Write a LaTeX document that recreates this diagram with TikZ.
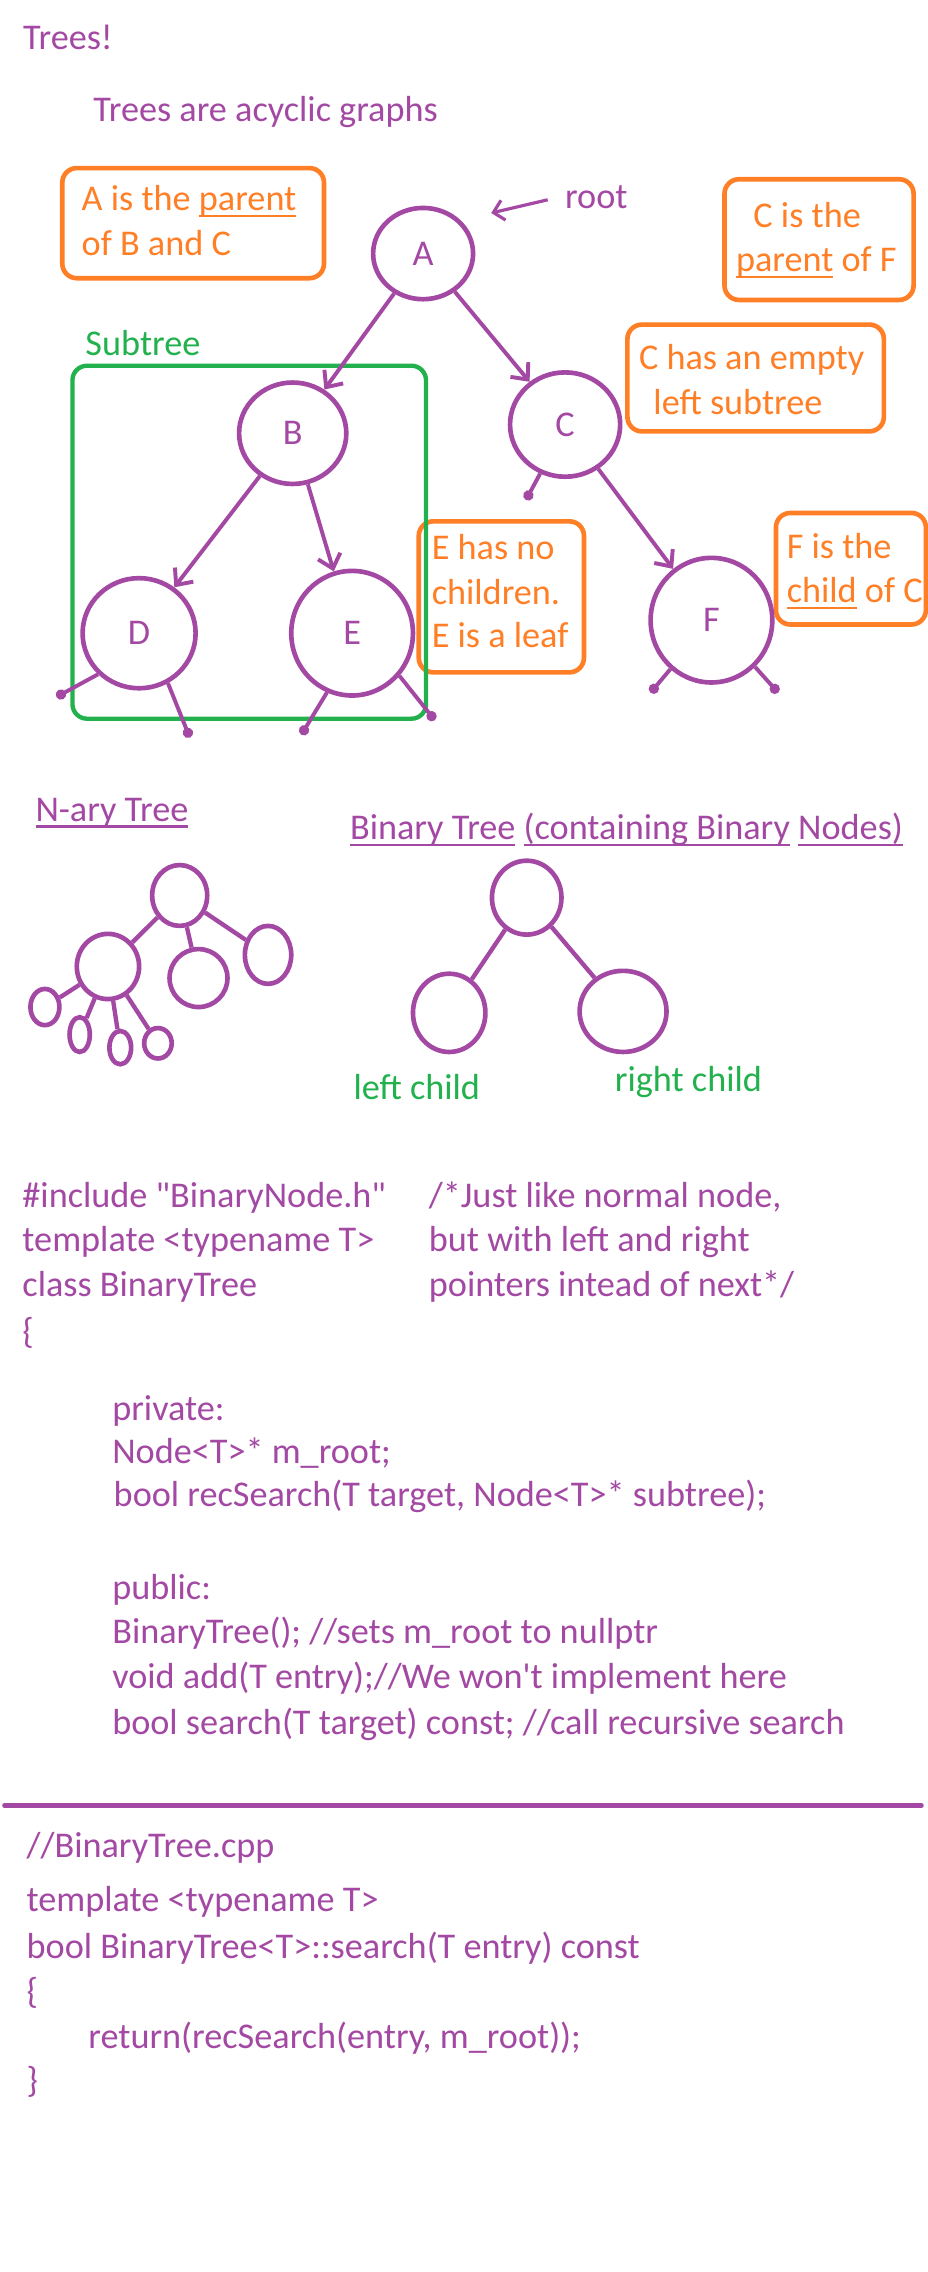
\documentclass[tikz,border=0pt]{standalone}
\usepackage{fontspec}
\setmainfont{Carlito}
\usetikzlibrary{arrows.meta,shapes.geometric}
\definecolor{pur}{HTML}{A349A4}
\definecolor{org}{HTML}{FF7F27}
\definecolor{grn}{HTML}{22B14C}
\newcommand\myul[1]{\setbox0\hbox{#1}\rlap{\rule[-4.5pt]{\wd0}{1.6pt}}\box0\relax}
\tikzset{
  txt/.style={anchor=base west, inner sep=0pt, outer sep=0pt, font=\fontsize{25}{31}\selectfont},
  ptxt/.style={txt, text=pur},
  otxt/.style={txt, text=org},
  gtxt/.style={txt, text=grn},
  obox/.style={draw=org, line width=3.2pt, rounded corners=10pt, inner sep=0pt},
  gbox/.style={draw=grn, line width=3pt, rounded corners=10pt, inner sep=0pt},
  tnode/.style={ellipse, draw=pur, line width=3.2pt, inner sep=0pt, text=pur, font=\fontsize{25}{31}\selectfont},
  snode/.style={ellipse, draw=pur, line width=3.2pt, inner sep=0pt},
  arr/.style={draw=pur, line width=2.7pt, -{Straight Barb[length=9pt,width=16pt]}},
  nul/.style={draw=pur, line width=2.7pt, -{Circle[length=7pt]}},
  tedge/.style={draw=pur, line width=3pt},
}
\begin{document}
\begin{tikzpicture}[x=1pt,y=-1pt]
\useasboundingbox (0,0) rectangle (640,1568);
\fill[white] (0,0) rectangle (640,1568);

% titles
\node[ptxt] (t1) at (16,34.5) {Trees!};
\node[ptxt] (t2) at (64.5,84) {Trees are acyclic graphs};

% boxes
\node[obox, minimum width=180.6pt, minimum height=76pt] (b1) at (133.3,154) {};
\node[otxt] (b1a) at (56.4,145.3) {A is the \myul{parent}};
\node[otxt] (b1b) at (56.4,176) {of B and C};

\node[obox, minimum width=130.5pt, minimum height=83.3pt] (b2) at (565.25,165.35) {};
\node[otxt] (b2a) at (520,157) {C is the};
\node[otxt] (b2b) at (508,187.4) {\myul{parent} of F};

\node[obox, minimum width=177pt, minimum height=73.7pt] (b3) at (521.5,260.85) {};
\node[otxt] (b3a) at (441,255) {C has an empty};
\node[otxt] (b3b) at (451,286) {left subtree};

\node[obox, minimum width=114pt, minimum height=104.2pt] (b4) at (346,411.9) {};
\node[otxt] (b4a) at (298,386) {E has no};
\node[otxt] (b4b) at (298,417) {children.};
\node[otxt] (b4c) at (298,447) {E is a leaf};

\node[obox, minimum width=103.5pt, minimum height=77pt] (b5) at (587.25,392.5) {};
\node[otxt] (b5a) at (543,385.6) {F is the};
\node[otxt] (b5b) at (543,416) {\myul{child} of C};

% subtree
\node[gtxt] (sub) at (59,245.5) {Subtree};
\node[gbox, minimum width=244pt, minimum height=243.6pt] (gb) at (172,374.2) {};

% main tree
\node[tnode, minimum width=69pt, minimum height=63pt] (A) at (292,175) {A};
\node[tnode, minimum width=74pt, minimum height=70pt] (B) at (202,299) {B};
\node[tnode, minimum width=76pt, minimum height=72pt] (C) at (390,293) {C};
\node[tnode, minimum width=78pt, minimum height=76pt] (D) at (96,437) {D};
\node[tnode, minimum width=84pt, minimum height=86pt] (E) at (243,437) {E};
\node[tnode, minimum width=84pt, minimum height=86pt] (F) at (491,428) {F};

\draw[arr] (A) -- (B);
\draw[arr] (A) -- (C);
\draw[arr] (B) -- (D);
\draw[arr] (B) -- (E);
\draw[arr] (C) -- (F);

\coordinate (cn) at (363,345);
\coordinate (dn1) at (39,481);
\coordinate (dn2) at (131,509);
\coordinate (en1) at (208,507);
\coordinate (en2) at (300,497);
\coordinate (fn1) at (449,478);
\coordinate (fn2) at (537,478);
\draw[nul] (C.243) -- (cn);
\draw[nul] (D.225) -- (dn1);
\draw[nul] (D.300) -- (dn2);
\draw[nul] (E.247) -- (en1);
\draw[nul] (E.318) -- (en2);
\draw[nul] (F.230) -- (fn1);
\draw[nul] (F.313) -- (fn2);

% root label
\node[ptxt] (rootlbl) at (390,143.7) {root};
\coordinate (roottip) at (339,147);
\draw[draw=pur, line width=2.2pt, -{Straight Barb[length=7pt,width=14pt]}] ([xshift=-12pt,yshift=-2pt]rootlbl.west) -- (roottip);

% N-ary tree
\node[ptxt] (nary) at (24.5,566.7) {\myul{N-ary Tree}};
\node[snode, minimum width=38pt, minimum height=42pt] (nr) at (124,618) {};
\node[snode, minimum width=43pt, minimum height=45pt] (nc1) at (74.5,667) {};
\node[snode, minimum width=40pt, minimum height=40pt] (nc2) at (137,675) {};
\node[snode, minimum width=32pt, minimum height=40pt] (nc3) at (185,659) {};
\node[snode, minimum width=20pt, minimum height=25pt] (ng1) at (31,695) {};
\node[snode, minimum width=14pt, minimum height=24pt] (ng2) at (55,714) {};
\node[snode, minimum width=15pt, minimum height=23pt] (ng3) at (83,723) {};
\node[snode, minimum width=19pt, minimum height=21pt] (ng4) at (109,720) {};
\draw[tedge] (nr) -- (nc1);
\draw[tedge] (nr) -- (nc2);
\draw[tedge] (nr) -- (nc3);
\draw[tedge] (nc1) -- (ng1);
\draw[tedge] (nc1) -- (ng2);
\draw[tedge] (nc1) -- (ng3);
\draw[tedge] (nc1) -- (ng4);

% Binary tree
\node[ptxt] (bint) at (241.6,579.3) {\myul{Binary Tree} \myul{(containing Binary} \myul{Nodes)}};
\node[snode, minimum width=48pt, minimum height=51pt] (br) at (363.5,619.5) {};
\node[snode, minimum width=50pt, minimum height=54pt] (bl) at (310,699) {};
\node[snode, minimum width=60pt, minimum height=56pt] (bR) at (430,698) {};
\draw[tedge] (br) -- (bl);
\draw[tedge] (br) -- (bR);
\node[gtxt] (lc) at (244,758.6) {left child};
\node[gtxt] (rc) at (424.4,753) {right child};

% code block 1
\node[ptxt] (c1) at (15.5,833) {\#include \textquotedbl BinaryNode.h\textquotedbl};
\node[ptxt] (c2) at (15.5,864) {template <typename T>};
\node[ptxt] (c3) at (15.5,895) {class BinaryTree};
\node[ptxt] (c4) at (15.5,927) {\{};
\node[ptxt] (k1) at (296,833) {/*Just like normal node,};
\node[ptxt] (k2) at (296,864) {but with left and right};
\node[ptxt] (k3) at (296,895) {pointers intead of next*/};
\node[ptxt] (c5) at (77.5,980) {private:};
\node[ptxt] (c6) at (77.5,1010) {Node<T>* m\_root;};
\node[ptxt] (c7) at (78.5,1040) {bool recSearch(T target, Node<T>* subtree);};
\node[ptxt] (c8) at (77.5,1104) {public:};
\node[ptxt] (c9) at (77.5,1134) {BinaryTree(); //sets m\_root to nullptr};
\node[ptxt] (c10) at (77.5,1165) {void add(T entry);//We won\textquotesingle t implement here};
\node[ptxt] (c11) at (77.5,1197) {bool search(T target) const; //call recursive search};

% separator
\coordinate (sepL) at (3,1246);
\coordinate (sepR) at (636,1246);
\draw[pur, line width=3pt, line cap=round] (sepL) -- (sepR);

% code block 2
\node[ptxt] (d1) at (18.4,1281.6) {//BinaryTree.cpp};
\node[ptxt] (d2) at (18.4,1319.5) {template <typename T>};
\node[ptxt] (d3) at (18.4,1351.7) {bool BinaryTree<T>::search(T entry) const};
\node[ptxt] (d4) at (18.4,1382.7) {\{};
\node[ptxt] (d5) at (61,1413.8) {return(recSearch(entry, m\_root));};
\node[ptxt] (d6) at (18.4,1444) {\}};
\end{tikzpicture}
\end{document}
